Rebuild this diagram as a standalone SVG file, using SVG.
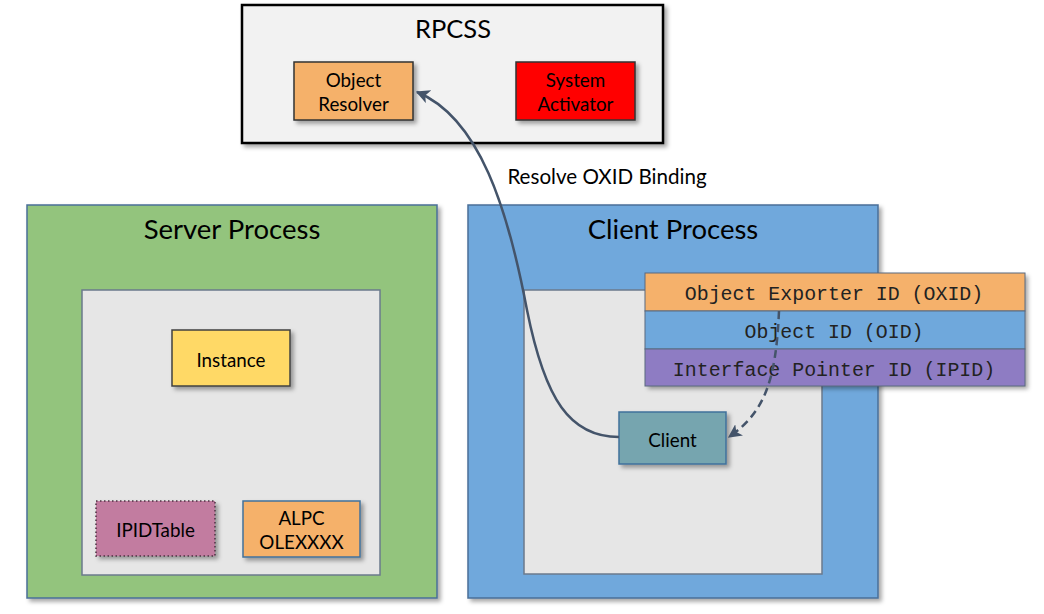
<svg xmlns="http://www.w3.org/2000/svg" width="1044" height="614" viewBox="0 0 1044 614">
<defs>
<filter id="sh" x="-10%" y="-10%" width="130%" height="130%">
<feDropShadow dx="3" dy="3" stdDeviation="2" flood-color="#000" flood-opacity="0.35"/>
</filter>
<marker id="ah" viewBox="0 0 10 10" refX="9" refY="5" markerWidth="5.5" markerHeight="5.5" orient="auto" markerUnits="strokeWidth">
<path d="M0,0 L10,5 L0,10 L2.5,5 z" fill="#44546A"/>
</marker>
<style>
.t{font-family:Lato,"Open Sans",sans-serif;fill:#000;text-anchor:middle}
.m{font-family:"Liberation Mono","Courier New",monospace;font-size:19.9px;fill:#222;text-anchor:middle}
.box{filter:url(#sh)}
.conn{fill:none;stroke:#44546A;stroke-width:2.5}
</style>
</defs>
<rect width="1044" height="614" fill="#fff"/>

<g id="rpcss">
<rect class="box" x="242" y="5" width="421" height="138" fill="#f2f2f2" stroke="#000" stroke-width="2.5"/>
<text class="t" x="453" y="38" font-size="25.5">RPCSS</text>
</g>
<g id="object-resolver">
<rect class="box" x="294" y="62" width="119" height="58" fill="#F5B16B" stroke="#333" stroke-width="1.5"/>
<text class="t" x="353.5" y="87" font-size="18.8">Object</text>
<text class="t" x="353.5" y="111" font-size="18.8">Resolver</text>
</g>
<g id="system-activator">
<rect class="box" x="516" y="62" width="119" height="58" fill="#FF0000" stroke="#333" stroke-width="1.5"/>
<text class="t" x="575.5" y="87" font-size="18.8">System</text>
<text class="t" x="575.5" y="111" font-size="18.8">Activator</text>
</g>

<g id="server-process">
<rect class="box" x="27" y="205" width="410" height="393" fill="#93C47D" stroke="#4A6F98" stroke-width="1.5"/>
<text class="t" x="232" y="239" font-size="27.5">Server Process</text>
<rect x="82" y="290" width="298" height="285" fill="#E6E6E6" stroke="#6B7A8C" stroke-width="1.5"/>
</g>
<g id="instance">
<rect class="box" x="172" y="330" width="118" height="56" fill="#FFD966" stroke="#404040" stroke-width="1.5"/>
<text class="t" x="231" y="367" font-size="18.8">Instance</text>
</g>
<g id="ipidtable">
<rect class="box" x="96" y="501" width="119" height="55" fill="#C27BA0" stroke="#4a3040" stroke-width="1.5" stroke-dasharray="1.5 2.5"/>
<text class="t" x="155.5" y="537" font-size="18.8">IPIDTable</text>
</g>
<g id="alpc">
<rect class="box" x="243" y="501" width="117" height="56" fill="#F5B16B" stroke="#41719C" stroke-width="1.5"/>
<text class="t" x="301.5" y="525" font-size="18.8">ALPC</text>
<text class="t" x="301.5" y="549" font-size="18.8">OLEXXXX</text>
</g>

<g id="client-process">
<rect class="box" x="468" y="205" width="410" height="393" fill="#6FA8DC" stroke="#4A6F98" stroke-width="1.5"/>
<text class="t" x="673" y="239" font-size="27.5">Client Process</text>
<rect x="524" y="290" width="298" height="284" fill="#E6E6E6" stroke="#6B7A8C" stroke-width="1.5"/>
</g>
<g id="client">
<rect class="box" x="619" y="412" width="107" height="52" fill="#76A5AF" stroke="#41719C" stroke-width="1.5"/>
<text class="t" x="672.5" y="447" font-size="18.8">Client</text>
</g>

<g id="id-stack">
<rect class="box" x="645" y="273" width="380" height="113" fill="#888" stroke="none"/>
<rect x="645" y="273" width="380" height="38" fill="#F5B16B" stroke="#5a6a80" stroke-width="1"/>
<rect x="645" y="311" width="380" height="38" fill="#6FA8DC" stroke="#5a6a80" stroke-width="1"/>
<rect x="645" y="349" width="380" height="37" fill="#8E7CC3" stroke="#5a6a80" stroke-width="1"/>
<text class="m" x="834" y="300">Object Exporter ID (OXID)</text>
<text class="m" x="834" y="338">Object ID (OID)</text>
<text class="m" x="834" y="376">Interface Pointer ID (IPID)</text>
</g>

<g id="connectors">
<path class="conn" d="M619,437 C570,437 545,400 527,310 C508,210 480,118 417,92" marker-end="url(#ah)"/>
<path class="conn" d="M779,311 C776,380 765,412 729,437" stroke-dasharray="8 5" marker-end="url(#ah)"/>
<text class="t" x="607" y="184" font-size="20.6">Resolve OXID Binding</text>
</g>
</svg>
